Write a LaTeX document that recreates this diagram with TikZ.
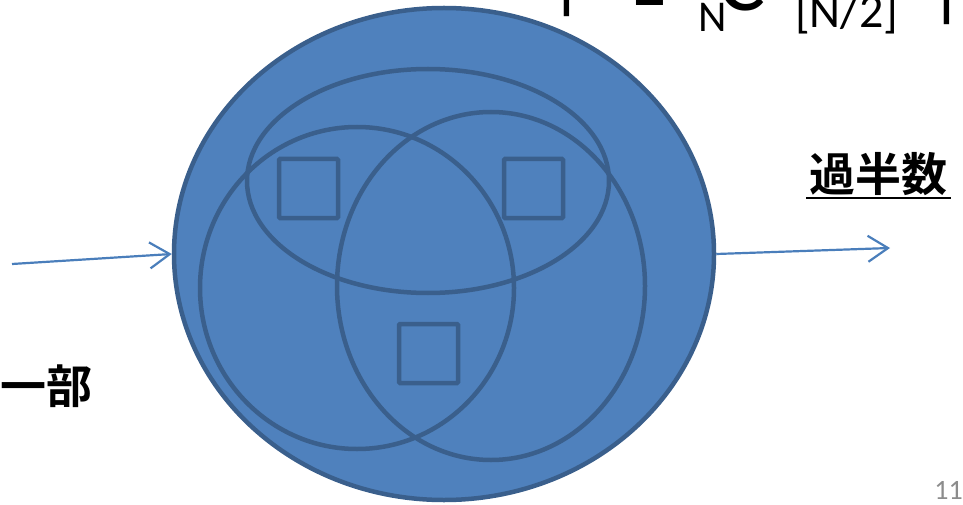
\documentclass[tikz,border=0pt]{standalone}
\usepackage{fontspec}
\setmainfont{Carlito}
\newfontfamily\cjkbold[BoldFont={Noto Sans CJK JP Bold}]{Noto Sans CJK JP}
\usetikzlibrary{arrows.meta,shapes.geometric}
\definecolor{fillblue}{HTML}{4F81BD}
\definecolor{edgeblue}{HTML}{3A5F8C}
\definecolor{arrowblue}{HTML}{4A7EBB}
\definecolor{pagegray}{HTML}{8C8C8C}
\tikzset{
  setline/.style={draw=edgeblue, line width=4.5pt},
  sqbox/.style={draw=edgeblue, line width=4.5pt, minimum width=59pt, minimum height=59pt, inner sep=0pt, rounded corners=1pt},
  flowarrow/.style={draw=arrowblue, line width=2.2pt, -{Straight Barb[length=20pt, width=26pt, line width=2.2pt]}},
  bigtxt/.style={inner sep=0pt, anchor=base west, font=\fontsize{80}{80}\selectfont},
  subtxt/.style={inner sep=0pt, anchor=base west, font=\fontsize{44}{44}\selectfont},
  jptxt/.style={inner sep=0pt, font=\cjkbold\bfseries\fontsize{46}{46}\selectfont}
}
\begin{document}
\begin{tikzpicture}[x=1pt,y=-1pt]
\useasboundingbox (0,0) rectangle (963,505);
\begin{scope}
\clip (0,0) rectangle (963,505);
% cropped formula at top
\node[bigtxt] (bar1) at (548,4) {|};
\node[bigtxt] (one) at (626,6) {1};
\node[subtxt] (subN) at (698,32) {N};
\node[bigtxt, font=\fontsize{88}{88}\selectfont] (bigC) at (718,11) {C};
\node[subtxt, font=\fontsize{48}{48}\selectfont] (half) at (795,28) {[N/2]};
\node[bigtxt] (bar2) at (928,12) {|};
\end{scope}
% big circle
\node[draw=edgeblue, fill=fillblue, line width=4.5pt, ellipse, minimum width=540pt, minimum height=492pt, inner sep=0pt] (big) at (444,254) {};
% inner ellipses
\draw[setline] (428,181) ellipse [x radius=181, y radius=112];
\draw[setline] (357,288) ellipse [x radius=157, y radius=161];
\draw[setline] (491,286) ellipse [x radius=154, y radius=174];
% squares
\node[sqbox] (sqA) at (308.5,188.5) {};
\node[sqbox] (sqB) at (533.5,188.5) {};
\node[sqbox] (sqC) at (428.5,353.5) {};
% arrows
\coordinate (inStart) at (12,264);
\coordinate (outEnd) at (890,248);
\draw[flowarrow] (inStart) -- (big.west);
\draw[flowarrow] (big.east) -- (outEnd);
% labels
\node[jptxt, anchor=base] (maj) at (878,192) {過半数};
\draw[black, line width=2.5pt] (806,198) -- (951,198);
\node[jptxt, anchor=base west] (part) at (0,403) {一部};
\node[inner sep=0pt, anchor=base east, text=pagegray, font=\fontsize{28}{28}\selectfont] (pnum) at (963,499) {11};
\end{tikzpicture}
\end{document}
